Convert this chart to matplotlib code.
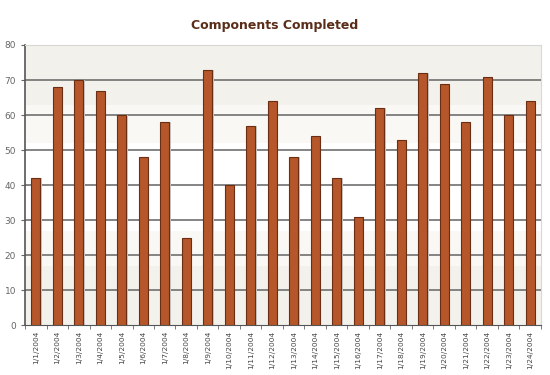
import matplotlib.pyplot as plt
import numpy as np

# daily components completed, January 2004
dates = ['1/%d/2004' % d for d in range(1, 25)]
completed = [42, 68, 70, 67, 60, 48, 58, 25, 73, 40, 57, 64,
             48, 54, 42, 31, 62, 53, 72, 69, 58, 71, 60, 64]

fig = plt.figure(figsize=(5.5, 3.75), dpi=100)
ax = fig.add_axes([0.0455, 0.1333, 0.938, 0.7467])

x = np.arange(len(dates))

# soft banded background
ax.axhspan(63, 80, color='#f3f1eb', zorder=0, lw=0)
ax.axhspan(52, 63, color='#f9f8f4', zorder=0, lw=0)
ax.axhspan(17, 27, color='#f9f8f4', zorder=0, lw=0)
ax.axhspan(0, 17, color='#f3f1eb', zorder=0, lw=0)

for y in range(10, 80, 10):
    ax.axhline(y, color='#707070', lw=1.2, zorder=1)

# shadow then bars
ax.bar(x + 0.06, completed, width=0.42, color='#c8c8c8', zorder=2, lw=0)
ax.bar(x, completed, width=0.42, color='#b5572a', edgecolor='#6b2e15',
       linewidth=0.8, zorder=3)

ax.set_xlim(-0.5, len(dates) - 0.5)
ax.set_ylim(0, 80)
ax.set_yticks(range(0, 81, 10))
ax.tick_params(axis='y', labelsize=6.5, colors='#666666', length=3, width=0.8)
ax.set_xticks(x)
ax.set_xticklabels(dates, rotation=90, fontsize=5.3, color='#444444')
ax.set_xticks(np.arange(-0.5, len(dates)), minor=True)
ax.tick_params(axis='x', which='major', length=0, pad=4)
ax.tick_params(axis='x', which='minor', length=3, color='#666666', width=0.6)

for s in ['top', 'right']:
    ax.spines[s].set_color('#d8d8d8')
ax.spines['left'].set_color('#555555')
ax.spines['bottom'].set_color('#555555')
ax.spines['left'].set_linewidth(1.2)

fig.text(0.5, 0.933, 'Components Completed', ha='center', va='center',
         fontsize=9, fontweight='bold', color='#5a2d18')

plt.savefig('out.png')
